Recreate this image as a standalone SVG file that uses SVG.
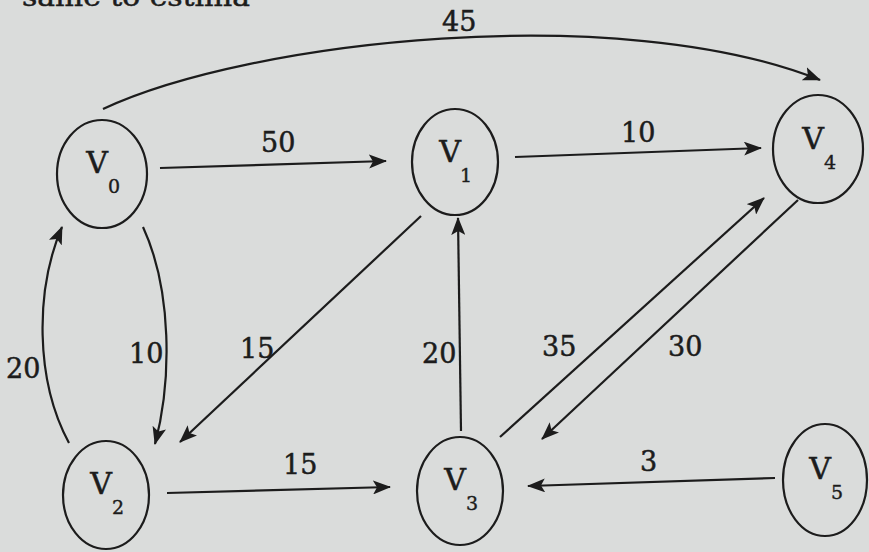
<svg xmlns="http://www.w3.org/2000/svg" width="869" height="552" viewBox="0 0 869 552">
<defs>
<marker id="arr" markerUnits="userSpaceOnUse" markerWidth="18" markerHeight="14" viewBox="0 0 18 14" refX="17" refY="7" orient="auto">
<path d="M0,0 L18,7 L0,14 L4,7 Z" fill="#1c1c1c"/>
</marker>
<style>
.bg{fill:#dadcdb}
.node{fill:none;stroke:#1c1c1c;stroke-width:2.2}
.edge{fill:none;stroke:#1c1c1c;stroke-width:2.2;marker-end:url(#arr)}
.lbl{font-family:"DejaVu Serif","Liberation Serif",serif;font-size:27px;fill:#1c1c1c;stroke:#1c1c1c;stroke-width:0.5}
.v{font-family:"DejaVu Serif","Liberation Serif",serif;font-size:30px;fill:#1c1c1c;stroke:#1c1c1c;stroke-width:0.5;text-anchor:middle}
.sub{font-family:"DejaVu Serif","Liberation Serif",serif;font-size:19px;fill:#1c1c1c;stroke:#1c1c1c;stroke-width:0.4;text-anchor:middle}
.top{font-family:"DejaVu Serif","Liberation Serif",serif;font-size:26px;fill:#1c1c1c;stroke:#1c1c1c;stroke-width:0.5}
</style>
</defs>
<rect class="bg" x="0" y="0" width="869" height="552"/>
<text class="top" x="22" y="6" textLength="228" lengthAdjust="spacingAndGlyphs">same to estima</text>

<g id="connectors">
<path class="edge" d="M103,109 C250,40 620,0 820,80"/>
<path class="edge" d="M160,168 L386,161"/>
<path class="edge" d="M515,157 L761,148"/>
<path class="edge" d="M143,227 C172,290 172,380 155,444"/>
<path class="edge" d="M69,443 C35,380 35,290 62,227"/>
<path class="edge" d="M421,216 L180,442"/>
<path class="edge" d="M461,431 L458,218"/>
<path class="edge" d="M500,437 L764,198"/>
<path class="edge" d="M798,200 L542,439"/>
<path class="edge" d="M167,493 L390,487"/>
<path class="edge" d="M775,478 L528,486"/>
<g id="edge-labels">
<text class="lbl" x="442" y="31">45</text>
<text class="lbl" x="261" y="152">50</text>
<text class="lbl" x="621" y="142">10</text>
<text class="lbl" x="129" y="363">10</text>
<text class="lbl" x="6" y="378">20</text>
<text class="lbl" x="240" y="358">15</text>
<text class="lbl" x="422" y="363">20</text>
<text class="lbl" x="542" y="356">35</text>
<text class="lbl" x="668" y="356">30</text>
<text class="lbl" x="283" y="474">15</text>
<text class="lbl" x="640" y="471">3</text>
</g>
</g>

<g id="V0"><ellipse class="node" cx="102" cy="174" rx="45" ry="54"/><text class="v" x="97" y="173">V</text><text class="sub" x="114" y="193">0</text></g>
<g id="V1"><ellipse class="node" cx="455" cy="162" rx="43" ry="53"/><text class="v" x="450" y="162">V</text><text class="sub" x="466" y="182">1</text></g>
<g id="V4"><ellipse class="node" cx="818" cy="149" rx="45" ry="54"/><text class="v" x="813" y="149">V</text><text class="sub" x="830" y="169">4</text></g>
<g id="V2"><ellipse class="node" cx="106" cy="495" rx="43" ry="54"/><text class="v" x="101" y="494">V</text><text class="sub" x="118" y="514">2</text></g>
<g id="V3"><ellipse class="node" cx="460" cy="491" rx="43" ry="54"/><text class="v" x="455" y="490">V</text><text class="sub" x="472" y="510">3</text></g>
<g id="V5"><ellipse class="node" cx="825" cy="480" rx="42" ry="56"/><text class="v" x="820" y="479">V</text><text class="sub" x="837" y="499">5</text></g>
</svg>
